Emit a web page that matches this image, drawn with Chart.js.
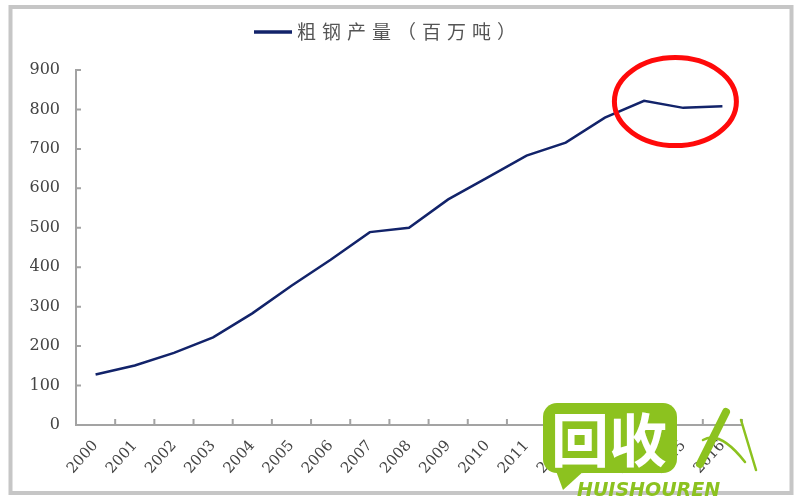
<!DOCTYPE html>
<html>
<head>
  <title>粗钢产量</title>
  <script src="https://cdn.jsdelivr.net/npm/chart.js@4.4.1/dist/chart.umd.min.js"></script>
  <style>
    body { margin: 0; background: #fff; }
    #wrap { width: 800px; height: 500px; }
  </style>
</head>
<body>
<div id="wrap"><canvas id="myChart" width="800" height="500"></canvas></div>
<script>
// data
const years = ['2000','2001','2002','2003','2004','2005','2006','2007','2008',
               '2009','2010','2011','2012','2013','2014','2015','2016'];
const steelOutput = [128, 151, 183, 222, 283, 353, 419, 489, 500,
                     572, 627, 683, 716, 779, 822, 804, 808];
const yTicks = [0, 100, 200, 300, 400, 500, 600, 700, 800, 900];
const seriesLabel = '粗钢产量（百万吨）';

const navy = '#12236a';
const axisGray = '#a3a3a3';

// draws frame, legend, inward tick marks, red circle and the watermark
const extras = {
  id: 'extras',
  afterDraw(chart) {
    const ctx = chart.ctx;
    const x = chart.scales.x, y = chart.scales.y;
    const area = chart.chartArea;
    ctx.save();

    // outer frame
    ctx.strokeStyle = '#c6c6c6';
    ctx.lineWidth = 4;
    ctx.strokeRect(10.5, 7, 781, 486);

    // legend
    ctx.strokeStyle = navy;
    ctx.lineWidth = 3.5;
    ctx.beginPath();
    ctx.moveTo(254, 32);
    ctx.lineTo(292, 32);
    ctx.stroke();
    ctx.fillStyle = '#555555';
    ctx.font = '19px "Noto Sans CJK SC"';
    ctx.textBaseline = 'middle';
    ctx.textAlign = 'left';
    ctx.letterSpacing = '6px';
    ctx.fillText(seriesLabel, 297, 32);
    ctx.letterSpacing = '0px';

    // inward tick marks
    ctx.strokeStyle = axisGray;
    ctx.lineWidth = 2;
    ctx.beginPath();
    yTicks.forEach(v => {
      const py = y.getPixelForValue(v);
      ctx.moveTo(area.left, py);
      ctx.lineTo(area.left + 5, py);
    });
    for (let i = 0; i <= years.length; i++) {
      const px = x.getPixelForValue(i - 0.5);
      ctx.moveTo(px, area.bottom);
      ctx.lineTo(px, area.bottom - 6);
    }
    ctx.stroke();

    // red highlight ellipse
    ctx.strokeStyle = '#ff0a0a';
    ctx.lineWidth = 5;
    ctx.beginPath();
    ctx.ellipse(x.getPixelForValue(14.8), y.getPixelForValue(820), 61, 44, 0, 0, Math.PI * 2);
    ctx.stroke();

    // watermark
    const green = '#8cc21f';
    ctx.fillStyle = green;
    ctx.beginPath();
    ctx.roundRect(543, 403, 134, 70, 14);
    ctx.fill();
    ctx.beginPath();
    ctx.moveTo(552, 460);
    ctx.lineTo(563, 490);
    ctx.lineTo(585, 470);
    ctx.closePath();
    ctx.fill();
    ctx.fillStyle = '#ffffff';
    ctx.font = 'bold 58px "Noto Sans CJK SC"';
    ctx.textAlign = 'center';
    ctx.textBaseline = 'middle';
    ctx.fillText('回收', 609, 440);
    ctx.fillStyle = green;
    ctx.font = 'italic bold 19px "DejaVu Sans"';
    ctx.textAlign = 'left';
    ctx.fillText('HUISHOUREN', 577, 491);
    // pen stroke
    ctx.strokeStyle = green;
    ctx.lineCap = 'round';
    ctx.lineWidth = 8;
    ctx.beginPath();
    ctx.moveTo(700, 464);
    ctx.lineTo(726, 412);
    ctx.stroke();
    ctx.lineWidth = 2.5;
    ctx.beginPath();
    ctx.moveTo(703, 440);
    ctx.quadraticCurveTo(720, 430, 745, 462);
    ctx.moveTo(741, 420);
    ctx.lineTo(756, 470);
    ctx.stroke();

    ctx.restore();
  }
};

const ctx = document.getElementById('myChart').getContext('2d');
const myChart = new Chart(ctx, {
  type: 'line',
  data: {
    labels: years,
    datasets: [{
      label: seriesLabel,
      data: steelOutput,
      borderColor: navy,
      backgroundColor: navy,
      borderWidth: 2.5,
      pointRadius: 0,
      tension: 0
    }]
  },
  options: {
    responsive: false,
    animation: false,
    layout: { padding: { top: 70, right: 58, bottom: 0, left: 0 } },
    plugins: {
      legend: { display: false },
      tooltip: { enabled: false }
    },
    scales: {
      x: {
        type: 'category',
        offset: true,
        grid: { display: false, drawTicks: false },
        border: { display: true, color: axisGray, width: 2 },
        ticks: {
          autoSkip: false,
          minRotation: 48,
          maxRotation: 48,
          padding: 12,
          color: '#444444',
          font: { family: '"DejaVu Serif"', size: 15 }
        },
        afterFit(scale) { scale.height = 75; }
      },
      y: {
        min: 0,
        max: 900,
        grid: { display: false, drawTicks: false },
        border: { display: true, color: axisGray, width: 2 },
        afterBuildTicks(scale) { scale.ticks = yTicks.map(v => ({ value: v })); },
        ticks: {
          padding: 16,
          color: '#444444',
          font: { family: '"DejaVu Serif"', size: 16 }
        },
        afterFit(scale) { scale.width = 76; }
      }
    }
  },
  plugins: [extras]
});
</script>
</body>
</html>
